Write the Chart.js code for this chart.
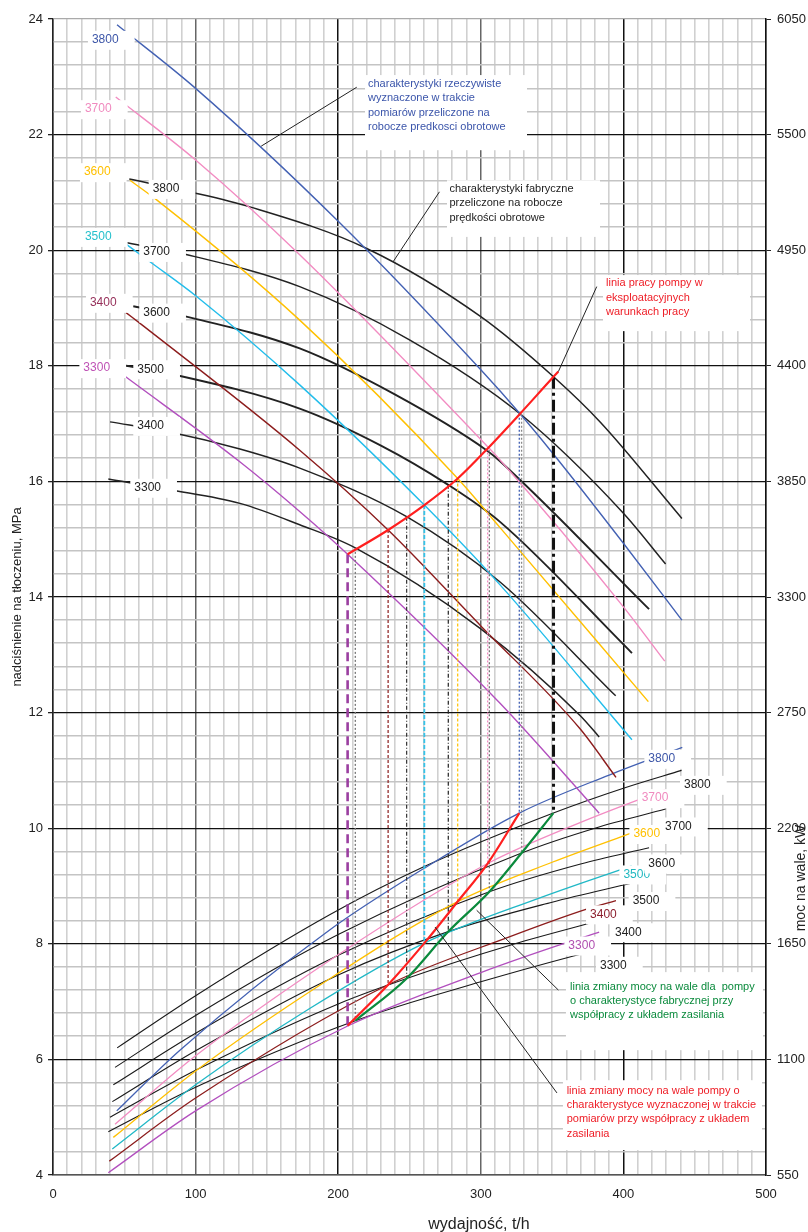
<!DOCTYPE html>
<html lang="pl">
<head>
<meta charset="utf-8">
<title>Charakterystyki pompy</title>
<script src="https://cdn.jsdelivr.net/npm/chart.js@4.4.1/dist/chart.umd.min.js"></script>
<style>
  html, body { margin: 0; padding: 0; background: #fff; }
  #wrap { width: 808px; height: 1232px; }
</style>
</head>
<body>
<div id="wrap"><canvas id="pumpChart" width="808" height="1232"></canvas></div>
<script>
// obroty robocze pompy
const speeds = [3300, 3400, 3500, 3600, 3700, 3800];

// nadciśnienie [Q t/h, p MPa] - charakterystyki rzeczywiste (pomiary)
const realHead3300 = [[49.3,17.84],[131,16.34],[173,15.48],[206.6,14.74],[313.5,12.16],[383,10.26]];
const realHead3400 = [[51.2,18.92],[63.3,18.69],[173,16.54],[235,15.16],[300,13.5],[369.6,11.72],[394.8,10.88]];
const realHead3500 = [[49.3,20.14],[68,19.8],[100.7,19.2],[173,17.67],[260.4,15.59],[313.5,14.21],[406,11.53]];
const realHead3600 = [[54,21.21],[72.7,20.87],[173,18.79],[283.8,16.05],[313.5,15.2],[417.5,12.19]];
const realHead3700 = [[44,22.65],[100,21.56],[173,19.92],[304.8,16.6],[313.5,16.37],[400,13.83],[429,12.89]];
const realHead3800 = [[44.9,23.9],[100,22.8],[200,20.5],[300,17.93],[327.5,17.17],[351,16.47],[400,14.93],[441,13.6]];

// nadciśnienie - charakterystyki fabryczne
const factHead3300 = [[38.8,16.04],[80.9,15.86],[131.1,15.62],[173,15.25],[212,14.85],[300,13.45],[369.6,11.95],[383,11.58]];
const factHead3400 = [[40,17.03],[80.9,16.86],[131.1,16.56],[173,16.23],[248,15.39],[313.5,14.26],[394.6,12.29]];
const factHead3500 = [[49.3,18.01],[80.9,17.87],[173,17.26],[230,16.62],[277.2,15.94],[313.5,15.3],[406,13.03]];
const factHead3600 = [[56.3,19.03],[97.2,18.83],[173,18.3],[240,17.5],[304,16.54],[313.5,16.35],[418,13.79]];
const factHead3700 = [[49.3,20.14],[92.6,19.93],[173,19.37],[250,18.45],[327.5,17.17],[400,15.45],[429.6,14.57]];
const factHead3800 = [[53.5,21.23],[97.5,21.0],[138,20.75],[220,20.03],[300,18.85],[351,17.81],[384,17.02],[441,15.36]];

// moc na wale [Q t/h, N kW] - rzeczywiste
const realPower3300 = [[38.8,561],[100,855],[207,1260],[300,1513],[359,1653],[383,1705]];
const realPower3400 = [[39.5,616],[100,916],[235,1455],[320,1683],[374.2,1815],[394.8,1856]];
const realPower3500 = [[41.6,674],[100,979],[180,1342],[260.4,1653],[340,1865],[405.8,2021]];
const realPower3600 = [[42.3,729],[100,1045],[190,1466],[283.8,1851],[350,2038],[417.5,2206]];
const realPower3700 = [[43.5,792],[100,1117],[200,1598],[304.8,2032],[370,2228],[429.2,2384]];
const realPower3800 = [[44.7,855],[89,1144],[194,1716],[260,2008],[327,2272],[390,2453],[441.3,2585]];

// moc na wale - fabryczne
const factPower3300 = [[38.8,756],[100,968],[212,1284],[300,1469],[365,1592],[383,1623]];
const factPower3400 = [[40,825],[100,1048],[200,1364],[248,1485],[320,1642],[374.2,1744],[394.6,1782]];
const factPower3500 = [[41.6,899],[100,1141],[200,1502],[277.2,1708],[350,1848],[406.3,1939]];
const factPower3600 = [[42.3,979],[100,1224],[200,1595],[306,1898],[370,2030],[418,2107]];
const factPower3700 = [[43.5,1062],[100,1309],[200,1694],[328.6,2082],[380,2200],[429.6,2291]];
const factPower3800 = [[45,1155],[100,1403],[194,1788],[260,2016],[350.9,2272],[400,2390],[440.8,2475]];

// linia pracy pompy i linie zmiany mocy
const workLine = [[206.6,14.74],[235,15.16],[260.4,15.59],[283.8,16.05],[304.8,16.57],[327.5,17.17],[351,17.81],[354.4,17.9]];
const realPowerLine = [[206.6,1260],[235,1455],[260.4,1653],[283.8,1851],[304.8,2032],[327,2272]];
const factPowerLine = [[212,1284],[248,1485],[277.2,1708],[306,1898],[328.6,2082],[350.9,2272]];

// rzutowanie punktów pracy na krzywe mocy
const dropFlow  = [206.6, 212, 235, 248, 260.4, 277.2, 283.8, 304.8, 306, 327, 328.6, 351];
const dropHead  = [14.74, 14.85, 15.16, 15.39, 15.59, 15.94, 16.05, 16.57, 16.54, 17.17, 17.17, 17.81];
const dropPower = [1260, 1284, 1455, 1485, 1653, 1708, 1851, 2032, 1898, 2272, 2082, 2272];

// zakresy osi
const flowMin = 0, flowMax = 500;
const headMin = 4, headMax = 24;
const powerMin = 550, powerMax = 6050;

const realHead = [realHead3300, realHead3400, realHead3500, realHead3600, realHead3700, realHead3800];
const factHead = [factHead3300, factHead3400, factHead3500, factHead3600, factHead3700, factHead3800];
const realPower = [realPower3300, realPower3400, realPower3500, realPower3600, realPower3700, realPower3800];
const factPower = [factPower3300, factPower3400, factPower3500, factPower3600, factPower3700, factPower3800];

// kolory
const realHeadColors  = ['#B24FBE', '#8C1C1C', '#22BDEB', '#FFC000', '#F28CC2', '#4361B3'];
const realPowerColors = ['#B24FBE', '#8C1C1C', '#20B8C6', '#FFC000', '#F28CC2', '#4361B3'];
const realTagColors   = ['#BF52B5', '#96305A', '#26C0CC', '#FFC000', '#F08ABF', '#3D56A8'];
const powerTagColors  = ['#B04FB0', '#8C1F2E', '#20B8C0', '#FFC000', '#F08ABF', '#3D56A8'];
const factColor = '#222';
const dropStyles = [
  { color: '#9B3FA0', width: 2.6, dash: [9, 5] },
  { color: '#777',    width: 1.3, dash: [2, 2] },
  { color: '#8C1C1C', width: 1.2, dash: [3, 2] },
  { color: '#333',    width: 1.2, dash: [4, 2, 1, 2] },
  { color: '#35C3E8', width: 1.8, dash: [4, 2] },
  { color: '#222',    width: 1.2, dash: [4, 2, 1, 2] },
  { color: '#FFC000', width: 1.2, dash: [3, 2] },
  { color: '#F08CC0', width: 1.3, dash: [2, 2] },
  { color: '#777',    width: 1.3, dash: [2, 2] },
  { color: '#4361B3', width: 1.3, dash: [2, 2] },
  { color: '#888',    width: 1.3, dash: [2, 2] },
  { color: '#111',    width: 3,   dash: [12, 4, 3, 4] }
];

// położenie opisów obrotów (lewy brzeg tekstu, środek wysokości) w jednostkach osi lewej
const realHeadTagAt  = [[21.3,17.96],[25.9,19.09],[22.4,20.23],[21.7,21.35],[22.4,22.44],[27.3,23.64]];
const factHeadTagAt  = [[57,15.89],[59.1,16.96],[59.1,17.94],[63.3,18.92],[63.3,19.97],[69.9,21.06]];
const realPowerTagAt = [[361.4,7.97],[376.6,8.51],[400,9.2],[407,9.9],[412.8,10.52],[417.5,11.2]];
const factPowerTagAt = [[383.6,7.62],[394.1,8.2],[406.5,8.74],[417.5,9.39],[429.2,10.03],[442.5,10.75]];

// opisy z odnośnikami
const notes = [
  { color: '#3B55AA', box: [218.8, 23.03, 332.4, 21.73], at: [220.9, 22.88],
    leader: [[146, 21.8], [213, 22.82]],
    lines: ['charakterystyki rzeczywiste', 'wyznaczone w trakcie', 'pomiarów przeliczone na', 'robocze predkosci obrotowe'] },
  { color: '#222', box: [276.3, 21.21, 383.6, 20.23], at: [278, 21.06],
    leader: [[238.5, 19.8], [271, 21.01]],
    lines: ['charakterystyki fabryczne', 'przeliczone na robocze', 'prędkości obrotowe'] },
  { color: '#EE1C25', box: [385.7, 19.57, 488.8, 18.6], at: [387.8, 19.43],
    leader: [[354.4, 17.9], [381.3, 19.37]],
    lines: ['linia pracy pompy w', 'eksploatacyjnych', 'warunkach pracy'] },
  { color: '#0A8A3C', box: [359.7, 7.51, 497.9, 6.16], at: [362.6, 7.26],
    leader: [[297.1, 8.58], [354.4, 7.2]],
    lines: ['linia zmiany mocy na wale dla  pompy', 'o charakterystyce fabrycznej przy', 'współpracy z układem zasilania'] },
  { color: '#EE1C25', box: [357.6, 5.64, 497.2, 4.43], at: [360.2, 5.46],
    leader: [[267.9, 8.29], [353.4, 5.42]],
    lines: ['linia zmiany mocy na wale pompy o', 'charakterystyce wyznaczonej w trakcie', 'pomiarów przy współpracy z układem', 'zasilania'] }
];

const FONT = '"Liberation Sans", Arial, sans-serif';

function pts(pairs) {
  return pairs.map(([x, y]) => ({ x, y }));
}

function powerToHead(p) {
  return headMin + (p - powerMin) * (headMax - headMin) / (powerMax - powerMin);
}

function curve(pairs, color, width, axis) {
  return {
    data: pts(pairs),
    yAxisID: axis,
    showLine: true,
    borderColor: color,
    borderWidth: width,
    pointRadius: 0,
    cubicInterpolationMode: 'monotone',
    fill: false
  };
}

const datasets = [];
datasets.push(curve(workLine, '#FF1F1F', 2.2, 'y'));
datasets.push(curve(realPowerLine, '#FF1F1F', 2.2, 'y1'));
datasets.push(curve(factPowerLine, '#0A8A3C', 2.2, 'y1'));

dropFlow.forEach((q, i) => {
  const st = dropStyles[i];
  datasets.push({
    data: [{ x: q, y: dropHead[i] }, { x: q, y: powerToHead(dropPower[i]) }],
    yAxisID: 'y',
    showLine: true,
    borderColor: st.color,
    borderWidth: st.width,
    borderDash: st.dash,
    pointRadius: 0
  });
});

speeds.forEach((n, i) => {
  datasets.push(curve(realHead[i], realHeadColors[i], 1.4, 'y'));
  datasets.push(curve(realPower[i], realPowerColors[i], 1.3, 'y1'));
});
speeds.forEach((n, i) => {
  datasets.push(curve(factHead[i], factColor, (n === 3500 || n === 3600) ? 1.9 : 1.5, 'y'));
  datasets.push(curve(factPower[i], '#1a1a1a', 1.1, 'y1'));
});

function isMajorHead(v) {
  const r = Math.round(v);
  return Math.abs(v - r) < 1e-6 && r % 2 === 0;
}

function tag(ctx, text, px, py, color) {
  ctx.font = '12px ' + FONT;
  const w = ctx.measureText(text).width;
  ctx.fillStyle = '#fff';
  ctx.fillRect(px - 4, py - 9, w + 20, 19);
  ctx.fillStyle = color;
  ctx.textAlign = 'left';
  ctx.textBaseline = 'middle';
  ctx.fillText(text, px, py);
}

const overlay = {
  id: 'overlay',
  afterDatasetsDraw(chart) {
    const { ctx } = chart;
    const sx = chart.scales.x, sy = chart.scales.y;
    const X = v => sx.getPixelForValue(v);
    const Y = v => sy.getPixelForValue(v);
    ctx.save();

    // odnośniki
    ctx.strokeStyle = '#222';
    ctx.lineWidth = 1;
    notes.forEach(nt => {
      ctx.beginPath();
      ctx.moveTo(X(nt.leader[0][0]), Y(nt.leader[0][1]));
      ctx.lineTo(X(nt.leader[1][0]), Y(nt.leader[1][1]));
      ctx.stroke();
    });

    // ramki z opisami
    notes.forEach(nt => {
      const [x1, y1, x2, y2] = nt.box;
      ctx.fillStyle = '#fff';
      ctx.fillRect(X(x1), Y(y1), X(x2) - X(x1), Y(y2) - Y(y1));
      ctx.fillStyle = nt.color;
      ctx.font = '11px ' + FONT;
      ctx.textAlign = 'left';
      ctx.textBaseline = 'middle';
      nt.lines.forEach((t, k) => ctx.fillText(t, X(nt.at[0]), Y(nt.at[1]) + k * 14.4));
    });

    // opisy obrotów
    speeds.forEach((n, i) => {
      const s = String(n);
      tag(ctx, s, X(realHeadTagAt[i][0]), Y(realHeadTagAt[i][1]), realTagColors[i]);
      tag(ctx, s, X(factHeadTagAt[i][0]), Y(factHeadTagAt[i][1]), '#222');
      tag(ctx, s, X(realPowerTagAt[i][0]), Y(realPowerTagAt[i][1]), powerTagColors[i]);
      tag(ctx, s, X(factPowerTagAt[i][0]), Y(factPowerTagAt[i][1]), '#222');
    });
    ctx.restore();
  },
  afterDraw(chart) {
    const { ctx, chartArea } = chart;
    ctx.save();
    ctx.fillStyle = '#222';
    ctx.textAlign = 'center';
    ctx.textBaseline = 'middle';

    ctx.font = '13px ' + FONT;
    ctx.save();
    ctx.translate(17, 597);
    ctx.rotate(-Math.PI / 2);
    ctx.fillText('nadciśnienie na tłoczeniu, MPa', 0, 0);
    ctx.restore();

    ctx.font = '14px ' + FONT;
    ctx.save();
    ctx.translate(chartArea.right + 35, 878);
    ctx.rotate(-Math.PI / 2);
    ctx.fillText('moc na wale, kW', 0, 0);
    ctx.restore();

    ctx.font = '16px ' + FONT;
    ctx.fillText('wydajność, t/h', 479, chartArea.bottom + 50);
    ctx.restore();
  }
};

new Chart(document.getElementById('pumpChart'), {
  type: 'scatter',
  data: { datasets },
  plugins: [overlay],
  options: {
    responsive: false,
    animation: false,
    layout: { padding: { top: 19, left: 0, right: 0, bottom: 0 } },
    plugins: { legend: { display: false }, tooltip: { enabled: false } },
    scales: {
      x: {
        type: 'linear',
        min: flowMin,
        max: flowMax,
        afterFit: s => { s.height = 57; },
        border: { color: '#555', width: 1.5 },
        grid: {
          drawTicks: false,
          color: c => c.tick.value % 100 === 0 ? (c.tick.value % 200 === 0 ? '#111' : '#666') : '#d0d0d0',
          lineWidth: c => c.tick.value % 100 === 0 ? 1.5 : 1.6
        },
        ticks: {
          stepSize: 10,
          autoSkip: false,
          maxRotation: 0,
          padding: 12,
          color: '#222',
          font: { family: FONT, size: 13 },
          callback: v => v % 100 === 0 ? String(v) : ''
        }
      },
      y: {
        type: 'linear',
        position: 'left',
        min: headMin,
        max: headMax,
        afterFit: s => { s.width = 53; },
        border: { color: '#222', width: 1.3 },
        grid: {
          tickLength: 5,
          color: c => {
            const v = c.tick.value;
            if (Math.abs(v - headMax) < 1e-6) return '#aaa';
            if (Math.abs(v - headMin) < 1e-6) return '#555';
            return isMajorHead(v) ? '#111' : '#c4c4c4';
          },
          tickColor: c => isMajorHead(c.tick.value) ? '#222' : 'rgba(0,0,0,0)',
          lineWidth: c => isMajorHead(c.tick.value) ? 1.3 : 1.6
        },
        ticks: {
          stepSize: 0.4,
          autoSkip: false,
          padding: 5,
          color: '#222',
          font: { family: FONT, size: 13 },
          callback: v => isMajorHead(v) ? String(Math.round(v)) : ''
        }
      },
      y1: {
        type: 'linear',
        position: 'right',
        min: powerMin,
        max: powerMax,
        afterFit: s => { s.width = 42; },
        border: { color: '#111', width: 1.5 },
        grid: { drawOnChartArea: false, tickLength: 5, tickColor: '#222' },
        ticks: {
          stepSize: 550,
          autoSkip: false,
          padding: 6,
          color: '#222',
          font: { family: FONT, size: 13 },
          callback: v => String(Math.round(v))
        }
      }
    }
  }
});
</script>
</body>
</html>
